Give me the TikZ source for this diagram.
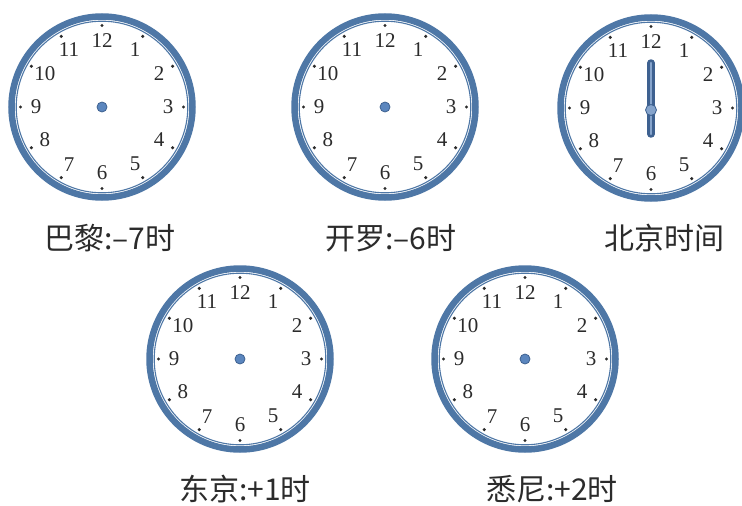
\documentclass[tikz,border=0pt]{standalone}
\usepackage{fontspec}
\setmainfont{Liberation Serif}
\newfontfamily\cjk{Noto Sans CJK SC}
\definecolor{ringBlue}{HTML}{4E77A6}
\definecolor{hubBlue}{HTML}{5B86BE}
\definecolor{hubEdge}{HTML}{3E6190}
\definecolor{handLight}{HTML}{86A4CC}
\definecolor{inkGrey}{HTML}{2B2B2B}
\tikzset{
  rimband/.style  = {ringBlue, line width=6.5pt},
  rimline/.style  = {ringBlue, line width=1.1pt},
  tickdot/.style  = {circle, fill=inkGrey, inner sep=0pt, minimum size=3.4pt},
  numlbl/.style   = {font=\fontsize{21}{21}\selectfont, text=inkGrey, inner sep=0pt},
  citylbl/.style  = {font=\cjk\fontsize{30}{30}\selectfont, text=inkGrey},
  hub/.style      = {circle, fill=hubBlue, draw=hubEdge, line width=0.8pt,
                     inner sep=0pt, minimum size=10pt},
  handout/.style  = {hubEdge, line width=7.5pt, line cap=round},
  handin/.style   = {handLight, line width=2.6pt, line cap=round},
  clockface/.pic  = {
    \draw[rimband] (0,0) circle (90.5);
    \draw[rimline] (0,0) circle (85.8);
    \foreach \h in {1,...,12} {
      \node[tickdot] (dot\h) at ({30*\h-90}:81.5) {};
      \node[numlbl] (num\h) at ({30*\h-90}:66) {\h};
    }
  },
}

\begin{document}
\begin{tikzpicture}[x=1pt,y=-1pt]
  \useasboundingbox (0,0) rectangle (742,506);
  % top row
  \pic (paris) at (102,107) {clockface};
  \node[hub] (parisHub) at (102,107) {};
  \pic (cairo) at (385,107) {clockface};
  \node[hub] (cairoHub) at (385,107) {};
  \pic (beijing) at (651,108) {clockface};
  \draw[handout] (651,63) -- (651,134);
  \draw[handin] (651,63) -- (651,134);
  \node[hub, fill=handLight, minimum size=11pt] (beijingHub) at (651,110) {};
  % bottom row
  \pic (tokyo) at (240,359) {clockface};
  \node[hub] (tokyoHub) at (240,359) {};
  \pic (sydney) at (525,359) {clockface};
  \node[hub] (sydneyHub) at (525,359) {};
  % city labels
  \node[citylbl] (parisLbl) at (110,238) {巴黎:–7时};
  \node[citylbl] (cairoLbl) at (391,238) {开罗:–6时};
  \node[citylbl] (beijingLbl) at (664,238) {北京时间};
  \node[citylbl] (tokyoLbl) at (245,489) {东京:+1时};
  \node[citylbl] (sydneyLbl) at (552,489) {悉尼:+2时};
\end{tikzpicture}
\end{document}
